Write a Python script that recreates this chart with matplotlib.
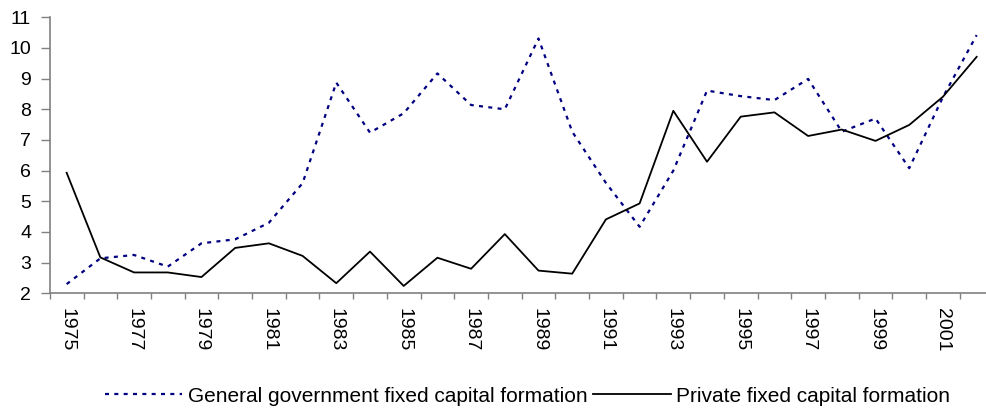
import numpy as np
import matplotlib.pyplot as plt
from matplotlib.ticker import FixedLocator

plt.rcParams['font.family'] = ['Liberation Sans', 'DejaVu Sans']

# data
years = list(range(1975, 2003))
gov_fcf = [2.30, 3.14, 3.25, 2.87, 3.63, 3.76, 4.30, 5.59, 8.87, 7.24,
           7.87, 9.17, 8.14, 8.00, 10.31, 7.27, 5.60, 4.17, 6.00, 8.61,
           8.43, 8.30, 8.99, 7.27, 7.70, 6.08, 8.40, 10.42]
priv_fcf = [5.93, 3.17, 2.68, 2.68, 2.53, 3.48, 3.63, 3.22, 2.33, 3.36,
            2.24, 3.16, 2.80, 3.93, 2.74, 2.64, 4.41, 4.93, 7.95, 6.29,
            7.76, 7.90, 7.13, 7.34, 6.97, 7.49, 8.41, 9.71]
labels = ['General government fixed capital formation', 'Private fixed capital formation']

fig = plt.figure(figsize=(9.86, 4.13), dpi=100)
# axes run a bit past the right edge, as in the original
ax = fig.add_axes([49.8 / 986, (413 - 293.3) / 413, (993.5 - 49.8) / 986, 276 / 413])

x = np.arange(len(years))
ax.plot(x, gov_fcf, color='#000080', lw=1.6, ls=(0, (1.8, 2.4)), label=labels[0])
ax.plot(x, priv_fcf, color='black', lw=1.3, label=labels[1])

ax.set_xlim(-0.5, len(years) - 0.5)
ax.set_ylim(2, 11)
ax.set_yticks(range(2, 12))

ax.set_xticks(x[::2])
ax.set_xticklabels([str(y) for y in years[::2]], rotation=-90, fontsize=14)
ax.xaxis.set_minor_locator(FixedLocator(np.arange(-0.5, len(years) + 0.5, 1)))
ax.tick_params(axis='x', which='major', length=0, pad=10.5)
ax.tick_params(axis='x', which='minor', length=4.5, color='#808080', width=1)
ax.tick_params(axis='y', length=6.5, color='#808080', width=1, labelsize=14, pad=7)

for side in ['top', 'right']:
    ax.spines[side].set_visible(False)
for side in ['left', 'bottom']:
    ax.spines[side].set_color('#808080')
    ax.spines[side].set_linewidth(1.2)

fig.legend(loc='center', bbox_to_anchor=(0.535, 1 - 396 / 413), ncol=2, frameon=False,
           fontsize=15, handlelength=3.7, handletextpad=0.25, columnspacing=0.3)

fig.savefig('out.png', dpi=100)
